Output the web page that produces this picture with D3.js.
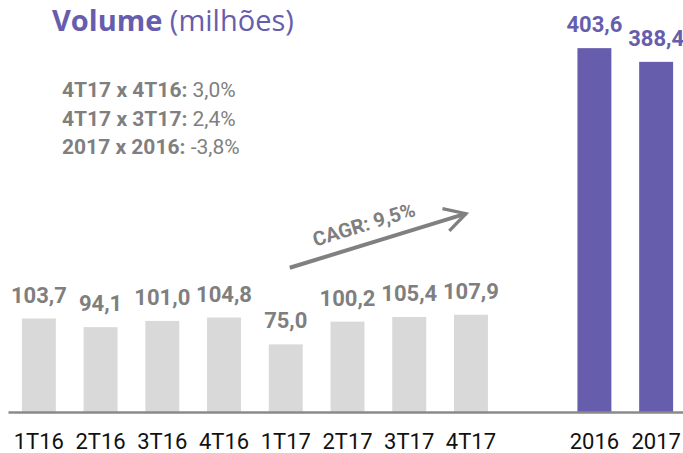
<!DOCTYPE html>
<html>
<head>
<meta charset="utf-8">
<script src="https://cdn.jsdelivr.net/npm/d3@7"></script>
<style>
  body { margin: 0; background: #fff; }
  text { font-family: Roboto, sans-serif; }
</style>
</head>
<body>
<script>
// chart data
const quarters = ["1T16", "2T16", "3T16", "4T16", "1T17", "2T17", "3T17", "4T17"];
const quarterValues = [103.7, 94.1, 101.0, 104.8, 75.0, 100.2, 105.4, 107.9];
const years = ["2016", "2017"];
const yearValues = [403.6, 388.4];
const notes = [["4T17 x 4T16:", "3,0%"], ["4T17 x 3T17:", "2,4%"], ["2017 x 2016:", "-3,8%"]];
const cagrText = "CAGR: 9,5%";

const width = 683, height = 453;
const grey = "#d9d9d9", purple = "#665ead", labelGrey = "#7f7f7f";

const fmt = v => v.toFixed(1).replace(".", ",");

const rows = quarters.map((q, i) => ({ cat: q, v: quarterValues[i], col: grey, lab: labelGrey }))
  .concat(years.map((y, i) => ({ cat: y, v: yearValues[i], col: purple, lab: purple })));

const svg = d3.select("body").append("svg")
  .attr("width", width)
  .attr("height", height);

// x scale, an empty slot keeps the gap between quarters and years
let x = d3.scaleBand()
  .domain(quarters.concat(["gap"], years))
  .range([8, 687])
  .paddingInner(0.45)
  .paddingOuter(0.225);

let y = d3.scaleLinear()
  .domain([0, 457])
  .range([412, 0]);

// bars
svg.selectAll(".bar")
  .data(rows)
  .enter()
  .append("rect")
  .attr("class", "bar")
  .attr("x", d => x(d.cat))
  .attr("y", d => y(d.v))
  .attr("width", x.bandwidth())
  .attr("height", d => y(0) - y(d.v))
  .attr("fill", d => d.col);

// value labels
svg.selectAll(".val")
  .data(rows)
  .enter()
  .append("text")
  .attr("class", "val")
  .attr("x", d => x(d.cat) + x.bandwidth() / 2)
  .attr("y", d => y(d.v) - 16)
  .attr("text-anchor", "middle")
  .style("font-size", "22px")
  .style("font-weight", "bold")
  .style("fill", d => d.lab)
  .text(d => fmt(d.v));

// bottom axis
const xAxis = svg.append("g")
  .attr("transform", "translate(0," + y(0) + ")")
  .call(d3.axisBottom(x).tickSize(0).tickSizeOuter(0).tickPadding(21)
    .tickFormat(d => d == "gap" ? "" : d));

xAxis.select(".domain")
  .attr("stroke", "#8a8a8a")
  .attr("stroke-width", 2.5);

xAxis.selectAll("text")
  .style("font-family", "Roboto, sans-serif")
  .style("font-size", "22px")
  .style("fill", "#111");

// title (reference is clipped at the top, keep it just inside)
const title = svg.append("text")
  .attr("x", 52)
  .attr("y", 31)
  .style("font-family", "'Open Sans', sans-serif")
  .style("font-size", "29px")
  .style("fill", purple);
title.append("tspan").style("font-weight", "bold").text("Volume");
title.append("tspan").text(" (milhões)");

// comparison notes
notes.forEach((n, i) => {
  const t = svg.append("text")
    .attr("x", 62)
    .attr("y", 97 + i * 28.5)
    .style("font-size", "21px")
    .style("fill", labelGrey);
  t.append("tspan").style("font-weight", "bold").text(n[0]);
  t.append("tspan").text(" " + n[1]);
});

// CAGR arrow
const x0 = x("1T17") + x.bandwidth() / 2 + 4, y0 = y(160);
const x1 = x("4T17") + x.bandwidth() / 2 - 5, y1 = y(220);
const ang = Math.atan2(y1 - y0, x1 - x0) * 180 / Math.PI;

svg.append("defs").append("marker")
  .attr("id", "arrow")
  .attr("viewBox", "0 0 12 12")
  .attr("refX", 10)
  .attr("refY", 6)
  .attr("markerWidth", 7)
  .attr("markerHeight", 7)
  .attr("markerUnits", "strokeWidth")
  .attr("orient", "auto")
  .append("path")
  .attr("d", "M1,1 L10,6 L1,11")
  .attr("fill", "none")
  .attr("stroke", "#808080")
  .attr("stroke-width", 1.4);

svg.append("line")
  .attr("x1", x0).attr("y1", y0)
  .attr("x2", x1).attr("y2", y1)
  .attr("stroke", "#808080")
  .attr("stroke-width", 4)
  .attr("marker-end", "url(#arrow)");

svg.append("text")
  .attr("transform", `translate(${(x0 + x1) / 2 - 9},${(y0 + y1) / 2}) rotate(${ang})`)
  .attr("dy", -10)
  .attr("text-anchor", "middle")
  .style("font-size", "20px")
  .style("font-weight", "bold")
  .style("fill", labelGrey)
  .text(cagrText);
</script>
</body>
</html>
